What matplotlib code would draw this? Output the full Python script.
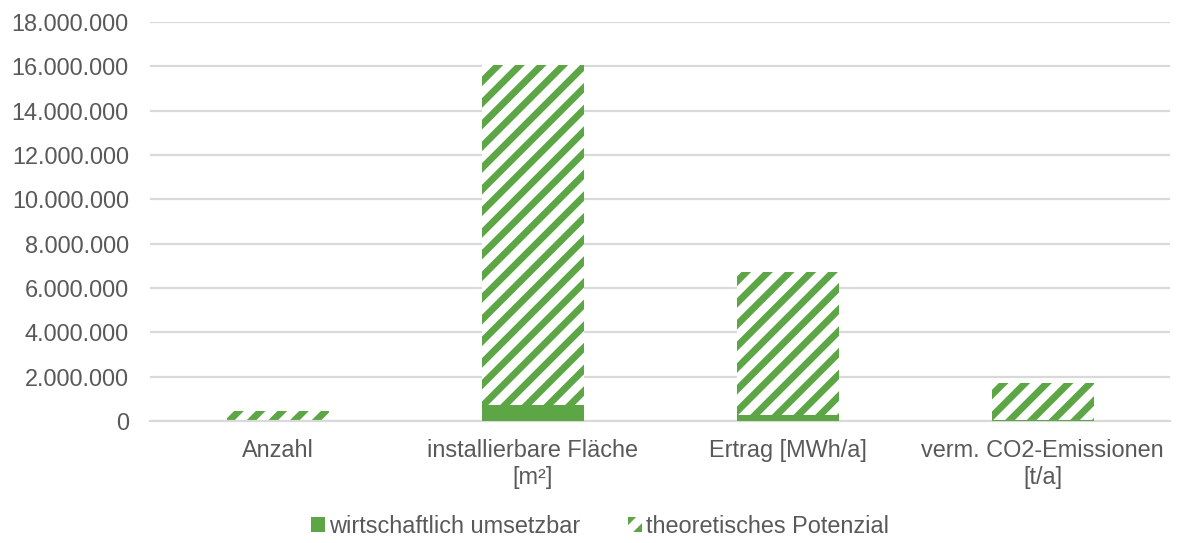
import matplotlib.pyplot as plt
from matplotlib.patches import Patch
from matplotlib.ticker import FuncFormatter

plt.rcParams['font.family'] = ['Liberation Sans', 'DejaVu Sans']
plt.rcParams['hatch.linewidth'] = 3.8

categories = ['Anzahl', 'installierbare Fläche\n[m²]', 'Ertrag [MWh/a]',
              'verm. CO2-Emissionen\n[t/a]']
wirtschaftlich = [15000, 720000, 250000, 25000]
theoretisch = [470000, 16050000, 6720000, 1710000]

green = '#5DA646'
grey_text = '#595959'
fs = 13

fig = plt.figure(figsize=(1179 / 130, 543 / 130), dpi=130)
ax = fig.add_axes([0.1276, 0.2247, 0.8648, 0.7348])

x = range(len(categories))
ax.bar(x, theoretisch, width=0.4, color='white', edgecolor=green,
       hatch='//', linewidth=0, zorder=2)
ax.bar(x, wirtschaftlich, width=0.4, color=green, linewidth=0, zorder=3)

ax.set_xlim(-0.5, 3.5)
ax.set_ylim(0, 18000000)
ax.set_yticks(range(0, 18000001, 2000000))
ax.yaxis.set_major_formatter(FuncFormatter(lambda v, p: f'{int(v):,}'.replace(',', '.')))
ax.set_xticks(list(x))
ax.set_xticklabels(categories)
ax.tick_params(length=0, labelsize=fs, labelcolor=grey_text)
ax.tick_params(axis='y', pad=12)
ax.tick_params(axis='x', pad=10)
ax.grid(axis='y', color='#D9D9D9', linewidth=1.2, zorder=0)
ax.set_axisbelow(True)
for s in ['top', 'right', 'left']:
    ax.spines[s].set_visible(False)
ax.spines['bottom'].set_color('#D9D9D9')
ax.spines['bottom'].set_linewidth(1.2)

handles = [Patch(facecolor=green, linewidth=0, label='wirtschaftlich umsetzbar'),
           Patch(facecolor='white', edgecolor=green, hatch='//', linewidth=0,
                 label='theoretisches Potenzial')]
fig.legend(handles=handles, loc='center', bbox_to_anchor=(0.509, 0.03), ncol=2,
           frameon=False, fontsize=fs, labelcolor=grey_text, handlelength=0.6,
           handleheight=0.6, handletextpad=0.2, columnspacing=2.0)

fig.savefig('out.png', dpi=130)
